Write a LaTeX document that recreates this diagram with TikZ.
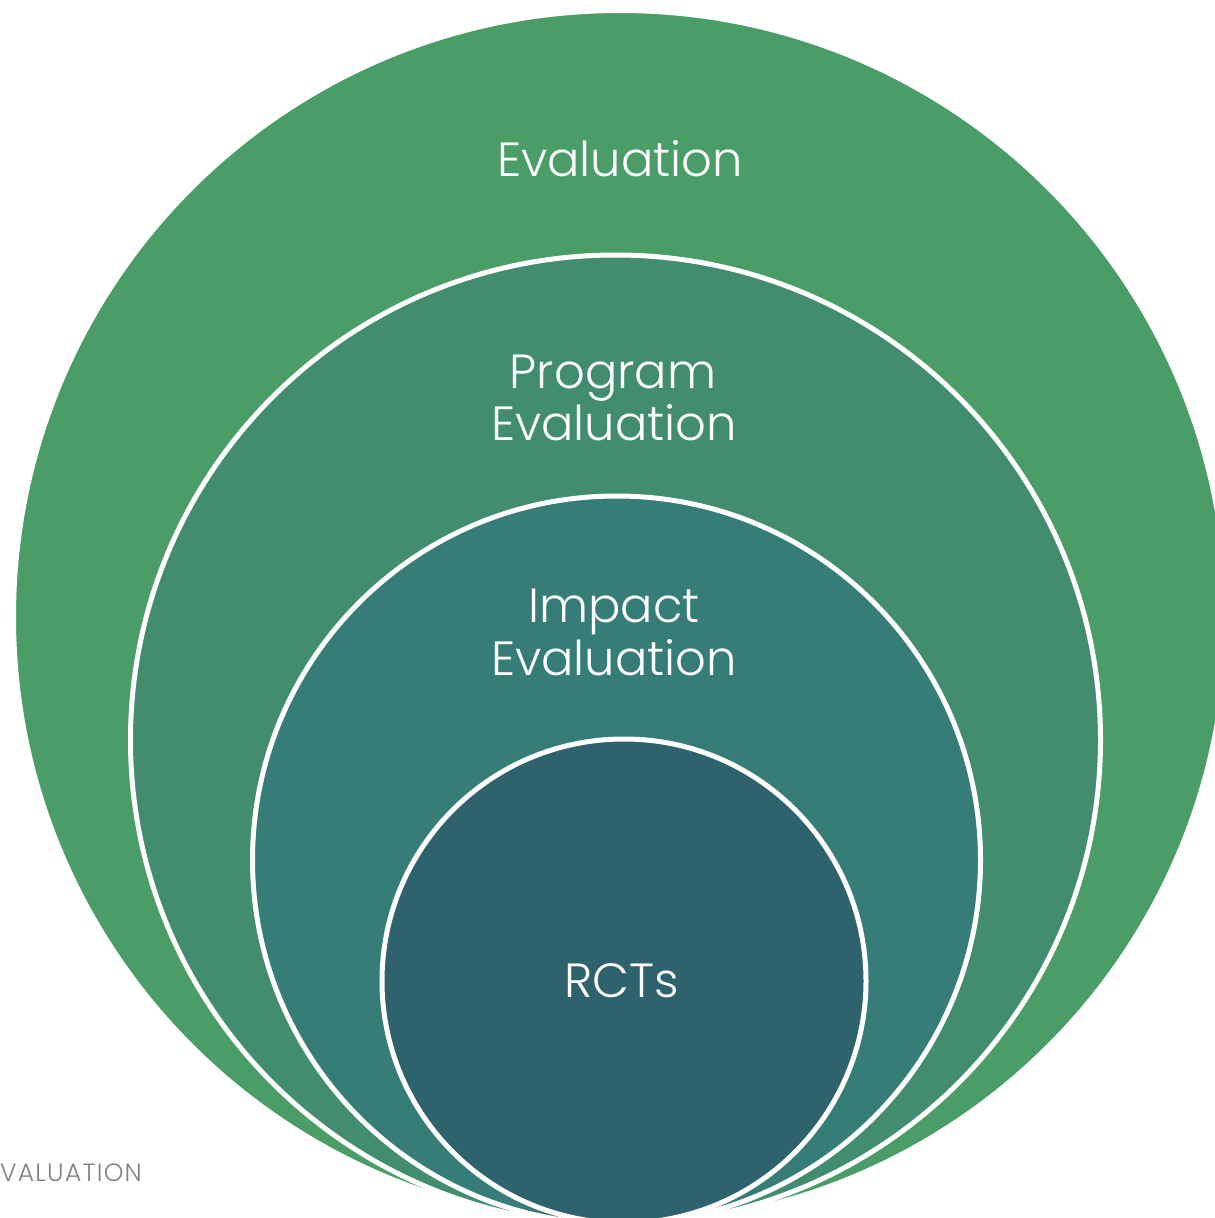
\documentclass[tikz,border=0pt]{standalone}
\usepackage{fontspec}
\setmainfont{Poppins Light}
\definecolor{ringA}{RGB}{74,157,103}
\definecolor{ringB}{RGB}{66,140,112}
\definecolor{ringC}{RGB}{55,125,119}
\definecolor{ringD}{RGB}{46,98,109}
\definecolor{footgray}{RGB}{128,128,128}
\begin{document}
\begin{tikzpicture}[x=1pt,y=-1pt,
  ring/.style={circle, inner sep=0pt, draw=white, line width=5pt},
  label/.style={text=white, align=center, font=\fontsize{48}{53}\selectfont, inner sep=0pt}]
\useasboundingbox (0,0) rectangle (1215,1218);
\clip (0,0) rectangle (1215,1218);
% nested circles, all touching near the bottom edge
\node[ring, fill=ringA, minimum size=1213pt] (outer) at (620,617) {};
\node[ring, fill=ringB, minimum size=970pt] (program) at (615.5,740) {};
\node[ring, fill=ringC, minimum size=728pt] (impact) at (616.5,860) {};
\node[ring, fill=ringD, minimum size=484pt] (rct) at (624,981) {};
% ring labels
\node[label, anchor=base] (tEval) at (620,176) {Evaluation};
\node[label, anchor=base] (tProg1) at (613,388) {Program};
\node[label, anchor=base] (tProg2) at (614,440) {Evaluation};
\node[label, anchor=base] (tImp1) at (614,622) {Impact};
\node[label, anchor=base] (tImp2) at (614,675) {Evaluation};
\node[label, anchor=base] (tRct) at (622,997) {RCTs};
% footer text
\node[anchor=base west, inner sep=0pt, text=footgray, font=\fontsize{25}{27}\selectfont\addfontfeature{LetterSpace=5}] (foot) at (0,1181) {VALUATION};
\end{tikzpicture}
\end{document}
